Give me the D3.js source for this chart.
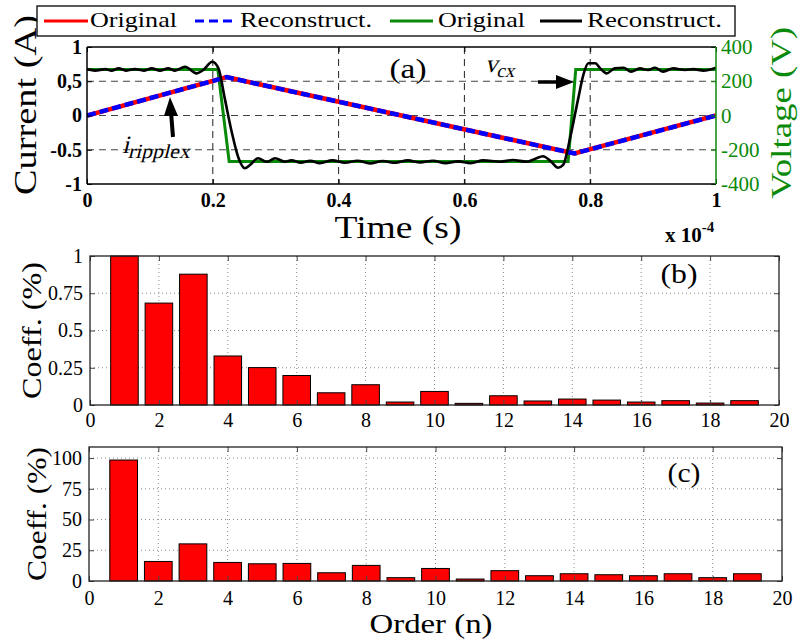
<!DOCTYPE html>
<html><head><meta charset="utf-8">
<script src="https://cdn.jsdelivr.net/npm/d3@7"></script>
<style>body{margin:0;background:#fff}svg{display:block}</style>
</head><body>
<svg id="chart" width="800" height="644"></svg>
<script>
// ---------------- DATA ----------------
const timeTicks = [0, 0.2, 0.4, 0.6, 0.8, 1];
const timeTickLabels = ["0", "0.2", "0.4", "0.6", "0.8", "1"];
const currentTicks = [-1, -0.5, 0, 0.5, 1];
const currentTickLabels = ["-1", "-0.5", "0", "0,5", "1"];
const voltageTicks = [-400, -200, 0, 200, 400];
const voltageTickLabels = ["-400", "-200", "0", "200", "400"];

// current ripple (A), time in x1e-4 s
const currentTime = [0, 0.222, 0.775, 1];
const currentOriginal = [0, 0.56, -0.555, 0];
const currentReconstructed = [0, 0.56, -0.555, 0];

// capacitor voltage (V)
const voltageOrigTime = [0, 0.208, 0.226, 0.765, 0.777, 1];
const voltageOriginal = [268, 268, -268, -268, 268, 268];

const voltageRecTime = [0, 0.013, 0.029, 0.039, 0.05, 0.063, 0.076, 0.09, 0.103, 0.116, 0.129, 0.14, 0.156, 0.174, 0.185, 0.199, 0.209, 0.219, 0.23, 0.241, 0.251, 0.259, 0.272, 0.286, 0.299, 0.315, 0.325, 0.34, 0.355, 0.37, 0.39, 0.41, 0.43, 0.45, 0.47, 0.49, 0.51, 0.53, 0.55, 0.57, 0.59, 0.61, 0.63, 0.657, 0.677, 0.699, 0.713, 0.725, 0.738, 0.749, 0.757, 0.768, 0.781, 0.789, 0.797, 0.808, 0.816, 0.826, 0.839, 0.853, 0.865, 0.879, 0.892, 0.903, 0.916, 0.932, 0.951, 0.964, 0.98, 1.0];
const voltageReconstructed = [271, 262, 271, 262, 275, 262, 271, 262, 275, 262, 275, 262, 285, 246, 266, 314, 275, 100, -95, -250, -308, -289, -250, -270, -250, -270, -262, -275, -265, -278, -262, -276, -264, -280, -266, -276, -262, -274, -264, -278, -268, -278, -262, -270, -260, -270, -252, -238, -270, -305, -289, -133, 100, 236, 305, 305, 275, 246, 275, 279, 256, 275, 266, 279, 256, 275, 266, 271, 262, 279];

// harmonic coefficients
const orders = [1, 2, 3, 4, 5, 6, 7, 8, 9, 10, 11, 12, 13, 14, 15, 16, 17, 18, 19];
const coeffB = [1.0, 0.684, 0.878, 0.329, 0.251, 0.198, 0.082, 0.136, 0.02, 0.091, 0.011, 0.062, 0.027, 0.04, 0.033, 0.02, 0.029, 0.013, 0.029];
const coeffC = [98.4, 15.9, 30.2, 15.1, 14.0, 14.3, 6.7, 12.7, 2.7, 10.2, 1.6, 8.4, 4.3, 5.9, 5.1, 4.3, 5.9, 2.7, 5.9];
const orderTicks = [0, 2, 4, 6, 8, 10, 12, 14, 16, 18, 20];
const coeffBTicks = [0, 0.25, 0.5, 0.75, 1];
const coeffBTickLabels = ["0", "0.25", "0.5", "0.75", "1"];
const coeffCTicks = [0, 25, 50, 75, 100];

const legendLabels = ["Original", "Reconstruct.", "Original", "Reconstruct."];

// ---------------- DRAW ----------------
const svg = d3.select("#chart");
const TIMES = "'Liberation Serif', 'Times New Roman', serif";
const GREEN = "#0a8a0a";

function label(parent, opts) {
  const t = parent.append("text").attr("font-family", TIMES).attr("font-size", opts.size)
    .attr("text-anchor", opts.anchor || "middle").attr("fill", opts.color || "#000");
  if (opts.transform) t.attr("transform", opts.transform); else t.attr("x", opts.x).attr("y", opts.y);
  if (opts.len) t.attr("textLength", opts.len).attr("lengthAdjust", "spacingAndGlyphs");
  t.text(opts.text);
  return t;
}

// ===== Panel (a) =====
const A = {x0: 87, x1: 716, y0: 47, y1: 184};
const xA = d3.scaleLinear().domain([0, 1]).range([A.x0, A.x1]);
const yA = d3.scaleLinear().domain([-1, 1]).range([A.y1, A.y0]);
const yV = d3.scaleLinear().domain([-400, 400]).range([A.y1, A.y0]);

// axis titles (before legend so the legend box overlaps)
label(svg, {transform: `translate(36,105) rotate(-90)`, size: 32, len: 180, text: "Current (A)"});
label(svg, {transform: `translate(791,113) rotate(-90)`, size: 29, len: 172, color: GREEN, text: "Voltage (V)"});

const gA = svg.append("g");
svg.append("defs").append("clipPath").attr("id", "clipA")
  .append("rect").attr("x", A.x0).attr("y", A.y0).attr("width", A.x1 - A.x0).attr("height", A.y1 - A.y0);

// dashed grid
gA.append("g").selectAll("line").data(timeTicks.filter(d => d > 0 && d < 1)).join("line")
  .attr("x1", d => xA(d)).attr("x2", d => xA(d)).attr("y1", A.y0).attr("y2", A.y1)
  .attr("stroke", "#222").attr("stroke-width", 1).attr("stroke-dasharray", "7,5");
gA.append("g").selectAll("line").data(currentTicks.filter(d => d > -1 && d < 1)).join("line")
  .attr("x1", A.x0).attr("x2", A.x1).attr("y1", d => yA(d)).attr("y2", d => yA(d))
  .attr("stroke", "#444").attr("stroke-width", 1).attr("stroke-dasharray", "7,5");

const plotA = gA.append("g").attr("clip-path", "url(#clipA)");
const lineV = d3.line().x(d => xA(d[0])).y(d => yV(d[1]));
const lineVs = d3.line().x(d => xA(d[0])).y(d => yV(d[1])).curve(d3.curveMonotoneX);
const lineI = d3.line().x(d => xA(d[0])).y(d => yA(d[1]));

plotA.append("path").datum(voltageOrigTime.map((t, i) => [t, voltageOriginal[i]]))
  .attr("d", lineV).attr("fill", "none").attr("stroke", GREEN).attr("stroke-width", 3);
plotA.append("path").datum(currentTime.map((t, i) => [t, currentOriginal[i]]))
  .attr("d", lineI).attr("fill", "none").attr("stroke", "#ff0000").attr("stroke-width", 4.5);
plotA.append("path").datum(currentTime.map((t, i) => [t, currentReconstructed[i]]))
  .attr("d", lineI).attr("fill", "none").attr("stroke", "#0000ff").attr("stroke-width", 4.5)
  .attr("stroke-dasharray", "9,4");
plotA.append("path").datum(voltageRecTime.map((t, i) => [t, voltageReconstructed[i]]))
  .attr("d", lineVs).attr("fill", "none").attr("stroke", "#000").attr("stroke-width", 2.6)
  .attr("stroke-linejoin", "round");

// axes (a)
function styleAxis(g, opts) {
  g.select(".domain").remove();
  g.selectAll(".tick line").attr("stroke", opts.tickColor || "#000");
  g.selectAll(".tick text").attr("font-family", opts.family).attr("font-size", opts.size)
    .attr("font-weight", opts.weight || "normal").attr("fill", opts.color || "#000");
}
const axB = svg.append("g").attr("transform", `translate(0,${A.y1})`)
  .call(d3.axisBottom(xA).tickValues(timeTicks).tickFormat((d, i) => timeTickLabels[i]).tickSize(-5).tickPadding(9));
styleAxis(axB, {family: TIMES, size: 20, weight: "bold"});
const axT = svg.append("g").attr("transform", `translate(0,${A.y0})`)
  .call(d3.axisTop(xA).tickValues(timeTicks).tickFormat("").tickSize(-5));
styleAxis(axT, {});
const axL = svg.append("g").attr("transform", `translate(${A.x0},0)`)
  .call(d3.axisLeft(yA).tickValues(currentTicks).tickFormat((d, i) => currentTickLabels[i]).tickSize(-5).tickPadding(5));
styleAxis(axL, {family: TIMES, size: 20, weight: "bold"});
const axR = svg.append("g").attr("transform", `translate(${A.x1},0)`)
  .call(d3.axisRight(yV).tickValues(voltageTicks).tickFormat((d, i) => voltageTickLabels[i]).tickSize(-5).tickPadding(5));
styleAxis(axR, {family: TIMES, size: 21, color: GREEN, tickColor: GREEN});

// frame
svg.append("line").attr("x1", A.x0).attr("x2", A.x1).attr("y1", A.y0).attr("y2", A.y0).attr("stroke", "#000").attr("stroke-width", 1.5);
svg.append("line").attr("x1", A.x0).attr("x2", A.x1).attr("y1", A.y1).attr("y2", A.y1).attr("stroke", "#000").attr("stroke-width", 1.5);
svg.append("line").attr("x1", A.x0).attr("x2", A.x0).attr("y1", A.y0).attr("y2", A.y1).attr("stroke", "#000").attr("stroke-width", 1.5);
svg.append("line").attr("x1", A.x1).attr("x2", A.x1).attr("y1", A.y0).attr("y2", A.y1).attr("stroke", GREEN).attr("stroke-width", 1.5);

// x label + multiplier
label(svg, {x: 398, y: 238, size: 31, len: 127, text: "Time (s)"});
const mult = svg.append("text").attr("x", 665).attr("y", 242).attr("font-family", TIMES)
  .attr("font-weight", "bold").attr("font-size", 21);
mult.append("tspan").text("x 10");
mult.append("tspan").attr("dy", -10).attr("font-size", 15).text("-4");

// annotations
label(svg, {x: 408, y: 78, size: 27, len: 37, text: "(a)"});
// math-italic labels: regular serif slanted with a skew
const vcx = svg.append("text").attr("transform", "translate(485,72) skewX(-14)")
  .attr("font-family", TIMES).attr("font-size", 25);
vcx.append("tspan").text("v");
vcx.append("tspan").attr("dy", 5).attr("font-size", 19).text("cx");
const irip = svg.append("text").attr("transform", "translate(122,153) skewX(-14)")
  .attr("font-family", TIMES).attr("font-size", 25);
irip.append("tspan").text("i");
irip.append("tspan").attr("dy", 5).attr("font-size", 20).attr("textLength", 62)
  .attr("lengthAdjust", "spacingAndGlyphs").text("ripplex");

// arrows
svg.append("line").attr("x1", 538).attr("y1", 82).attr("x2", 558).attr("y2", 82)
  .attr("stroke", "#000").attr("stroke-width", 3.5);
svg.append("path").attr("d", "M556,75 L574,82 L556,89 Z").attr("fill", "#000");
svg.append("line").attr("x1", 173).attr("y1", 137).attr("x2", 171).attr("y2", 112)
  .attr("stroke", "#000").attr("stroke-width", 4);
svg.append("path").attr("d", "M164,116 L170,97 L178,116 Z").attr("fill", "#000");

// legend
const leg = svg.append("g");
leg.append("rect").attr("x", 37).attr("y", 6).attr("width", 698).attr("height", 30)
  .attr("fill", "#fff").attr("stroke", "#000").attr("stroke-width", 1.3);
const legItems = [
  {x1: 44, x2: 88, color: "#ff0000", dash: null, tx: 90, len: 87},
  {x1: 195, x2: 234, color: "#0000ff", dash: "9,5", tx: 240, len: 132},
  {x1: 390, x2: 433, color: GREEN, dash: null, tx: 438, len: 87},
  {x1: 540, x2: 582, color: "#000", dash: null, tx: 587, len: 135}
];
legItems.forEach((it, i) => {
  leg.append("line").attr("x1", it.x1).attr("x2", it.x2).attr("y1", 21).attr("y2", 21)
    .attr("stroke", it.color).attr("stroke-width", 3).attr("stroke-dasharray", it.dash);
  label(leg, {x: it.tx, y: 27, size: 22, anchor: "start", len: it.len, text: legendLabels[i]});
});

// ===== Bar panels =====
function barPanel(P, yDomain, yTicks, yTickLabels, values, tag, tagPos, tagLen, ylabelX, ylabelLen, xPad) {
  const x = d3.scaleLinear().domain([0, 20]).range([P.x0, P.x1]);
  const y = d3.scaleLinear().domain(yDomain).range([P.y1, P.y0]);
  const g = svg.append("g");
  // dotted grid
  g.append("g").selectAll("line").data(orderTicks.filter(d => d > 0 && d < 20)).join("line")
    .attr("x1", d => x(d)).attr("x2", d => x(d)).attr("y1", P.y0).attr("y2", P.y1)
    .attr("stroke", "#8a8a8a").attr("stroke-width", 1).attr("stroke-dasharray", "1,3");
  g.append("g").selectAll("line").data(yTicks.filter(d => d > yDomain[0] && d < yDomain[1])).join("line")
    .attr("x1", P.x0).attr("x2", P.x1).attr("y1", d => y(d)).attr("y2", d => y(d))
    .attr("stroke", "#8a8a8a").attr("stroke-width", 1).attr("stroke-dasharray", "1,3");
  // bars
  const bw = (x(0.8) - x(0));
  g.append("g").selectAll("rect").data(orders).join("rect")
    .attr("x", (d) => x(d) - bw / 2).attr("width", bw)
    .attr("y", (d, i) => y(values[i])).attr("height", (d, i) => y(0) - y(values[i]))
    .attr("fill", "#ff0000").attr("stroke", "#000").attr("stroke-width", 1);
  // axes
  const ab = g.append("g").attr("transform", `translate(0,${P.y1})`)
    .call(d3.axisBottom(x).tickValues(orderTicks).tickSize(-5).tickPadding(xPad));
  styleAxis(ab, {family: TIMES, size: 20, tickColor: "#444"});
  const at = g.append("g").attr("transform", `translate(0,${P.y0})`)
    .call(d3.axisTop(x).tickValues(orderTicks).tickFormat("").tickSize(-5));
  styleAxis(at, {tickColor: "#444"});
  const al = g.append("g").attr("transform", `translate(${P.x0},0)`)
    .call(d3.axisLeft(y).tickValues(yTicks).tickFormat((d, i) => yTickLabels[i]).tickSize(-5).tickPadding(7));
  styleAxis(al, {family: TIMES, size: 20, tickColor: "#444"});
  const ar = g.append("g").attr("transform", `translate(${P.x1},0)`)
    .call(d3.axisRight(y).tickValues(yTicks).tickFormat("").tickSize(-5));
  styleAxis(ar, {tickColor: "#444"});
  g.append("rect").attr("x", P.x0).attr("y", P.y0).attr("width", P.x1 - P.x0).attr("height", P.y1 - P.y0)
    .attr("fill", "none").attr("stroke", "#222").attr("stroke-width", 1.3);
  label(g, {x: tagPos[0], y: tagPos[1], size: 27, len: tagLen, text: tag});
  label(svg, {transform: `translate(${ylabelX},${(P.y0 + P.y1) / 2}) rotate(-90)`, size: 28, len: ylabelLen, text: "Coeff. (%)"});
}

barPanel({x0: 90, x1: 779, y0: 256, y1: 405}, [0, 1], coeffBTicks, coeffBTickLabels, coeffB,
  "(b)", [679, 283], 37, 41, 137, 8);
barPanel({x0: 89, x1: 782, y0: 447, y1: 581}, [0, 109], coeffCTicks, coeffCTicks.map(String), coeffC,
  "(c)", [684, 482], 33, 46, 134, 10);

label(svg, {x: 431, y: 633, size: 28, len: 123, text: "Order (n)"});
</script>
</body></html>
